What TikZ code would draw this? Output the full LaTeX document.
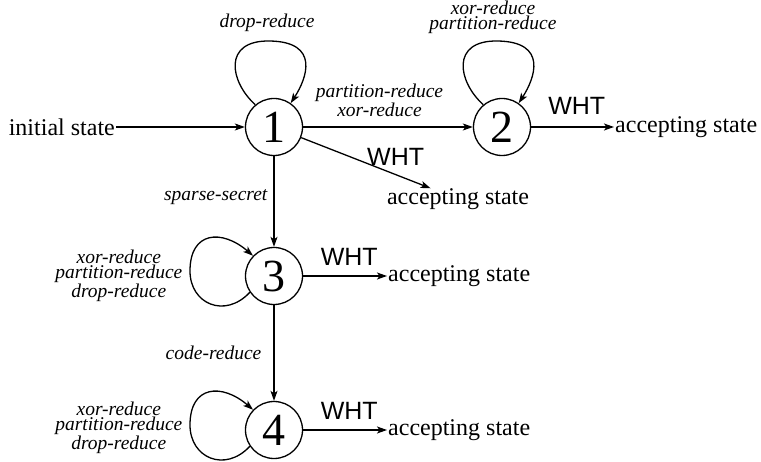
\documentclass[tikz,border=0pt]{standalone}
\usepackage{fontspec}
\setmainfont{Liberation Serif}
\newfontfamily\whtfont{Liberation Sans}
\usetikzlibrary{arrows.meta}
\begin{document}
\begin{tikzpicture}[x=1pt,y=-1pt,
  state/.style={circle,draw,line width=1.3pt,minimum size=57pt,inner sep=0pt,font=\fontsize{46}{46}\selectfont},
  plain/.style={inner sep=1pt,font=\fontsize{24}{26}\selectfont},
  lab/.style={inner sep=0pt,font=\fontsize{19.5}{15}\selectfont\itshape,align=center},
  wht/.style={inner sep=0pt,font=\fontsize{25}{25}\selectfont\whtfont},
  edge/.style={line width=1.3pt,-{Stealth[length=10pt,width=7pt,inset=2.5pt]}},
]
\useasboundingbox (0,0) rectangle (761,462);
% states
\node[state] (n1) at (274,127) {1};
\node[state] (n2) at (502,127) {2};
\node[state] (n3) at (274,276) {3};
\node[state] (n4) at (274,430) {4};
% plain text nodes
\node[plain,anchor=east] (init) at (116,127) {initial state};
\node[plain,anchor=west] (acc2) at (614,127) {accepting state};
\node[plain,inner sep=0pt] (acc1) at (458,199) {accepting state};
\node[plain,anchor=west] (acc3) at (387,276) {accepting state};
\node[plain,anchor=west] (acc4) at (387,430) {accepting state};
% edges
\draw[edge] (init) -- (n1);
\draw[edge] (n1) -- (n2) node[lab,pos=0.45,above=10pt] {partition-reduce\\xor-reduce};
\draw[edge] (n1) -- (acc1) node[wht,pos=0.73,above=8pt] {WHT};
\draw[edge] (n2) -- (acc2) node[wht,pos=0.55,above=12pt] {WHT};
\draw[edge] (n3) -- (acc3) node[wht,pos=0.55,above=10pt] {WHT};
\draw[edge] (n4) -- (acc4) node[wht,pos=0.55,above=10pt] {WHT};
\draw[edge] (n1) -- (n3) node[lab,pos=0.45,left=6pt] {sparse-secret};
\draw[edge] (n3) -- (n4) node[lab,pos=0.5,left=12pt] {code-reduce};
% loops
\draw[edge] (n1.130) .. controls (230,82) and (222,40) .. (270,41)
  node[lab,above=9pt,xshift=-3pt] {drop-reduce}
  .. controls (320,42) and (307,78) .. (n1.55);
\draw[edge] (n2.130) .. controls (458,82) and (450,40) .. (498,41)
  node[lab,above=7pt,xshift=-5pt] {xor-reduce\\partition-reduce}
  .. controls (548,42) and (535,78) .. (n2.55);
\draw[edge] (n3.214) .. controls (225,319) and (190,304) .. (190,271)
  node[lab,left=7pt,yshift=-5pt] {xor-reduce\\partition-reduce\\drop-reduce}
  .. controls (190,231) and (222,229) .. (n3.136);
\draw[edge] (n4.214) .. controls (225,473) and (190,458) .. (190,425)
  node[lab,left=7pt,yshift=-2.5pt] {xor-reduce\\partition-reduce\\drop-reduce}
  .. controls (190,385) and (222,383) .. (n4.136);
\end{tikzpicture}
\end{document}
